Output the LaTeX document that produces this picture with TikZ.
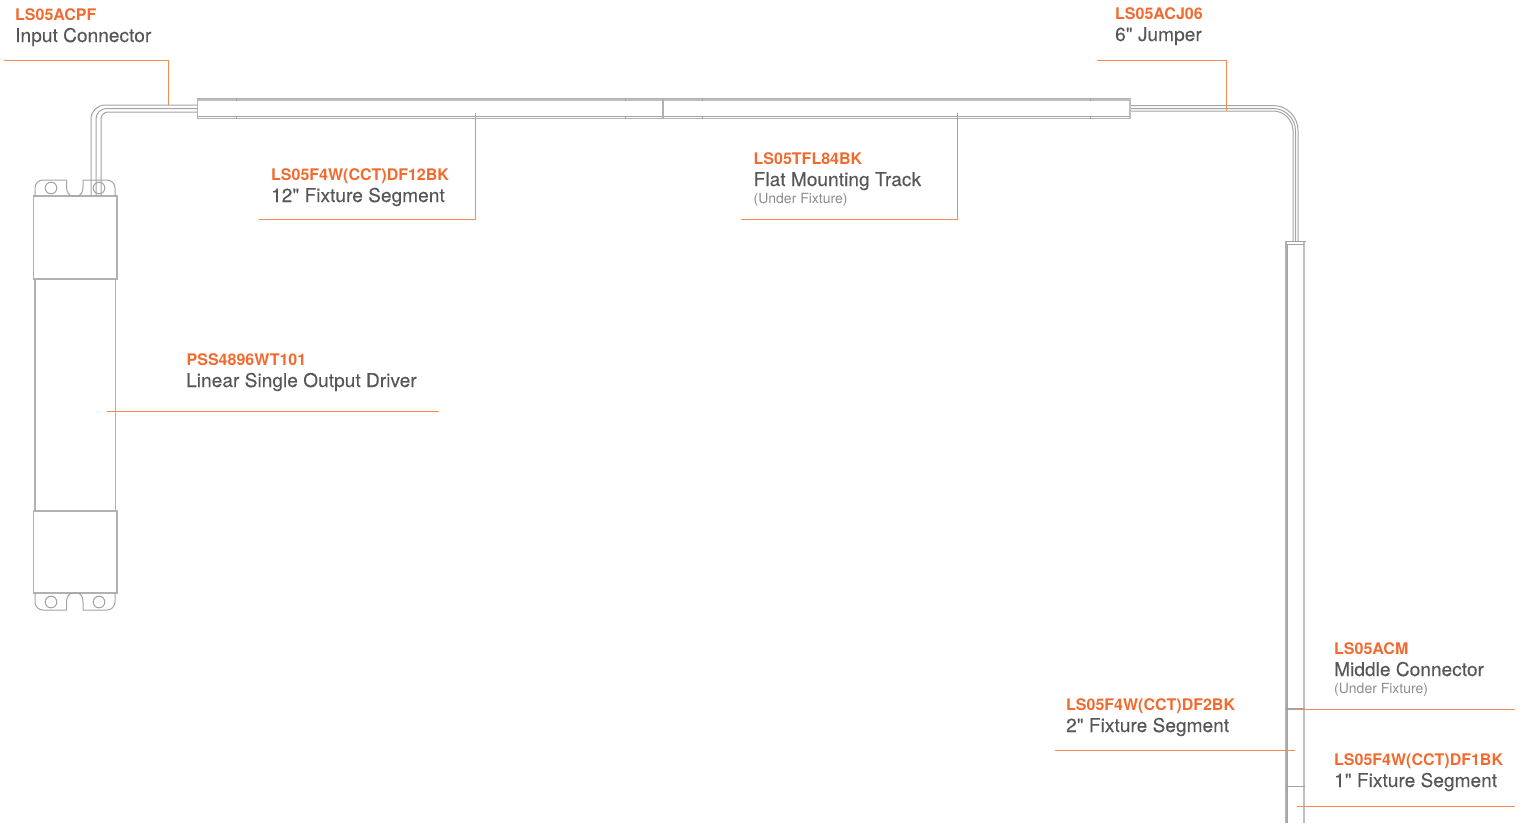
\documentclass[tikz,border=0pt]{standalone}
\usepackage{fontspec}
\setmainfont{TeX Gyre Heros}[Ligatures=TeXOff]
\newfontfamily\namefont{TeX Gyre Heros}[Ligatures=TeXOff,FakeBold=0.25,LetterSpace=0.4]
\definecolor{leadorange}{HTML}{F58A52}
\definecolor{partorange}{HTML}{F26A2E}
\definecolor{textgrey}{HTML}{575757}
\definecolor{notegrey}{HTML}{8C8C8C}
\definecolor{linegrey}{HTML}{A3A3A3}
\tikzset{
	leader/.style={draw=leadorange,line width=1pt},
	outline/.style={draw=linegrey!85,line width=1.1pt},
	thinline/.style={draw=linegrey,line width=1pt},
	wideline/.style={draw=linegrey!70,line width=2.6pt},
	partno/.style={anchor=base west,inner sep=0pt,text=partorange,font=\fontsize{16}{16}\selectfont\bfseries},
	partname/.style={anchor=base west,inner sep=0pt,text=textgrey,font=\namefont\fontsize{19}{19}\selectfont},
	partnote/.style={anchor=base west,inner sep=0pt,text=notegrey,font=\fontsize{14}{14}\selectfont},
}
\begin{document}
\begin{tikzpicture}[x=1pt,y=-1pt]
	\useasboundingbox (0,0) rectangle (1525,823);
	% driver
	\draw[outline] (33.5,196) rectangle (117,279);
	\draw[outline] (35,279) -- (35,511);
	\draw[outline] (115.5,279) -- (115.5,511);
	\draw[outline] (33.5,511) rectangle (117,593);
	\draw[thinline] (35,196) -- (35,188) arc (180:270:8) -- (66.5,180) -- (66.5,187)
		.. controls (66.5,192) and (69,196) .. (73,196) -- (77,196)
		.. controls (81,196) and (83,192) .. (83,187) -- (83,180) -- (107,180) arc (270:360:8) -- (115,196);
	\draw[thinline] (35,593) -- (35,602) arc (180:90:8) -- (66.5,610) -- (66.5,602)
		.. controls (66.5,597) and (69,593) .. (73,593) -- (77,593)
		.. controls (81,593) and (83,597) .. (83,602) -- (83,610) -- (107,610) arc (90:0:8) -- (115,593);
	\foreach \cx/\cy in {51/188,99/188,51/602,99/602}
		\draw[thinline] (\cx,\cy) circle (5.8);
	% input cable
	\foreach \cx/\cy/\rad in {91/105/14,96/108.5/10.5,101/112/7}
		\draw[thinline] (\cx,196) -- (\cx,\cy+\rad) arc (180:270:\rad) -- (197,\cy);
	% horizontal fixture
	\draw[wideline] (197,100) -- (1131,100);
	\draw[outline] (197,98.5) -- (1131,98.5);
	\draw[outline] (197,118.5) -- (1131,118.5);
	\draw[thinline] (197,116.5) -- (1131,116.5);
	\draw[outline] (197.5,98) -- (197.5,119);
	\draw[wideline] (1130,98) -- (1130,119);
	\draw[outline] (663,98) -- (663,119);
	\foreach \tick in {236,625,702,1090}
		\draw[thinline] (\tick,98) -- (\tick,101) (\tick,116) -- (\tick,119);
	% jumper
	\foreach \rad/\cy in {25/105.5,22.5/108.5,20/111}
		\draw[thinline] (1131,\cy) -- (1273,\cy) arc (270:360:\rad) -- (1273+\rad,241);
	% vertical fixture
	\draw[outline] (1286,241) -- (1286,823);
	\draw[thinline] (1287.5,244) -- (1287.5,823);
	\draw[wideline] (1304,241) -- (1304,823);
	\draw[thinline] (1285.5,241.5) -- (1305.5,241.5);
	\draw[thinline] (1286,244) -- (1304,244);
	\draw[line width=1.6pt,draw=linegrey] (1286,708.7) -- (1305,708.7);
	\draw[thinline] (1286,786) -- (1305,786);
	% labels
	\node[partno] (acpfno) at (15,20) {LS05ACPF};
	\node[partname] (acpfname) at (15,42) {Input Connector};
	\node[partno] (acjno) at (1115,19) {LS05ACJ06};
	\node[partname] (acjname) at (1115,41) {6" Jumper};
	\node[partno] (df12no) at (271,180) {LS05F4W(CCT)DF12BK};
	\node[partname] (df12name) at (271,202) {12" Fixture Segment};
	\node[partno] (tflno) at (753.5,164) {LS05TFL84BK};
	\node[partname] (tflname) at (753.5,186) {Flat Mounting Track};
	\node[partnote] (tflnote) at (753.5,203) {(Under Fixture)};
	\node[partno] (pssno) at (186.5,365) {PSS4896WT101};
	\node[partname] (pssname) at (186,387) {Linear Single Output Driver};
	\node[partno] (acmno) at (1334,654) {LS05ACM};
	\node[partname] (acmname) at (1334,676) {Middle Connector};
	\node[partnote] (acmnote) at (1334,693) {(Under Fixture)};
	\node[partno] (df2no) at (1066,710) {LS05F4W(CCT)DF2BK};
	\node[partname] (df2name) at (1066,732) {2" Fixture Segment};
	\node[partno] (df1no) at (1334,765) {LS05F4W(CCT)DF1BK};
	\node[partname] (df1name) at (1334,787) {1" Fixture Segment};
	% leaders
	\coordinate (acpfa) at (4,60);
	\coordinate (acpfb) at (168.5,105);
	\coordinate (acja) at (1097,60);
	\coordinate (acjb) at (1226,111);
	\coordinate (df12a) at (259,219.5);
	\coordinate (df12b) at (475.5,113);
	\coordinate (tfla) at (741,219.5);
	\coordinate (tflb) at (957.5,113);
	\draw[leader] (acpfa) -| (acpfb);
	\draw[leader] (acja) -| (acjb);
	\draw[leader] (df12a) -| (df12b);
	\draw[leader] (tfla) -| (tflb);
	\coordinate (pssa) at (107,411);
	\coordinate (pssb) at (439,411);
	\coordinate (acma) at (1297,709);
	\coordinate (acmb) at (1515,709);
	\coordinate (df2a) at (1055,750.5);
	\coordinate (df2b) at (1295,750.5);
	\coordinate (df1a) at (1297,806.5);
	\coordinate (df1b) at (1515,806.5);
	\draw[leader] (pssa) -- (pssb);
	\draw[leader] (acma) -- (acmb);
	\draw[leader] (df2a) -- (df2b);
	\draw[leader] (df1a) -- (df1b);
\end{tikzpicture}
\end{document}
